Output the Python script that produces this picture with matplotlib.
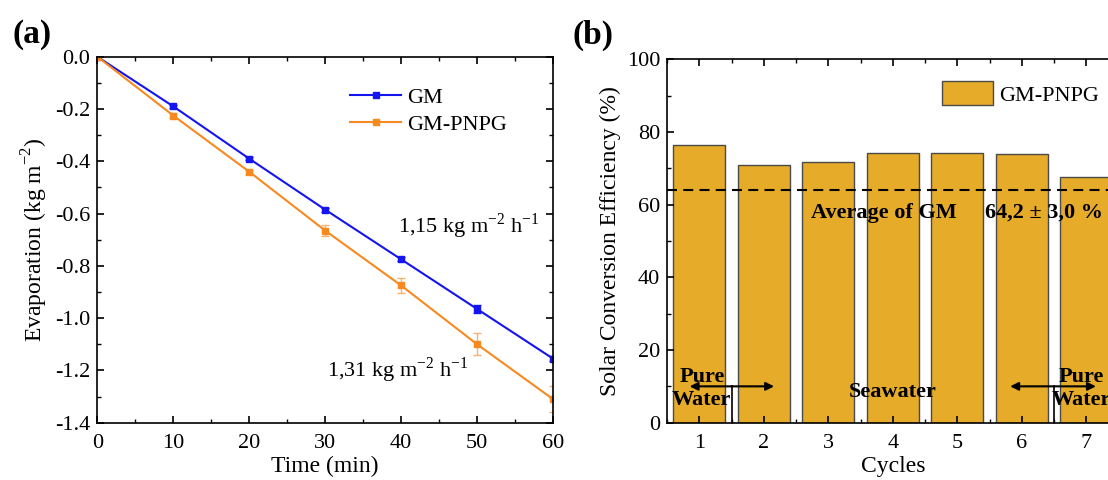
import matplotlib
matplotlib.use('Agg')
import matplotlib.pyplot as plt
from matplotlib.ticker import MultipleLocator, FormatStrFormatter

# panel (a) data
time_min = [0, 10, 20, 30, 40, 50, 60]
evap_gm = [0.0, -0.19, -0.39, -0.585, -0.775, -0.965, -1.155]
evap_gm_err = [0.0, 0.005, 0.005, 0.008, 0.008, 0.015, 0.01]
evap_pnpg = [0.0, -0.225, -0.44, -0.665, -0.875, -1.10, -1.31]
evap_pnpg_err = [0.0, 0.008, 0.008, 0.022, 0.03, 0.042, 0.05]

# panel (b) data
cycles = [1, 2, 3, 4, 5, 6, 7]
efficiency = [76.4, 70.9, 71.8, 74.2, 74.2, 73.9, 67.5]
gm_average = 64.0

plt.rcParams['font.family'] = ['Liberation Serif', 'DejaVu Serif']
plt.rcParams['mathtext.fontset'] = 'custom'
plt.rcParams['mathtext.rm'] = 'Liberation Serif'
plt.rcParams['axes.unicode_minus'] = False
plt.rcParams['font.size'] = 16

blue = '#1414F0'
orange = '#F8891E'
gold = '#E6AB28'

fig = plt.figure(figsize=(11.08, 4.8), dpi=100)

# ---- (a) evaporation
ax1 = fig.add_axes([0.0878, 0.1194, 0.4113, 0.7625])
ax1.errorbar(time_min, evap_gm, yerr=evap_gm_err, fmt='none', ecolor=blue,
             capsize=3, elinewidth=1)
ax1.errorbar(time_min, evap_pnpg, yerr=evap_pnpg_err, fmt='none', ecolor='#F9B070',
             capsize=3, elinewidth=1)
ax1.plot(time_min, evap_gm, color=blue, marker='s', ms=5, lw=1.5, label='GM')
ax1.plot(time_min, evap_pnpg, color=orange, marker='s', ms=5, lw=1.5, label='GM-PNPG')
ax1.set_xlim(0, 60)
ax1.set_ylim(-1.4, 0.0)
ax1.xaxis.set_major_locator(MultipleLocator(10))
ax1.xaxis.set_minor_locator(MultipleLocator(5))
ax1.yaxis.set_major_locator(MultipleLocator(0.2))
ax1.yaxis.set_minor_locator(MultipleLocator(0.1))
ax1.yaxis.set_major_formatter(FormatStrFormatter('%.1f'))
ax1.set_xlabel('Time (min)', fontsize=17, labelpad=2)
ax1.set_ylabel(r'Evaporation (kg m$^{\mathregular{-2}}$)', fontsize=17, labelpad=4)
ax1.legend(loc='upper left', bbox_to_anchor=(350 / 1108, 1 - 87 / 480),
           bbox_transform=fig.transFigure, frameon=False, borderpad=0,
           borderaxespad=0, handlelength=2.3, handletextpad=0.25,
           labelspacing=0.3, fontsize=16)
fig.text(398 / 1108, 1 - 226 / 480, r'1,15 kg m$^{\mathregular{-2}}$ h$^{\mathregular{-1}}$',
         va='center', ha='left', fontsize=16)
fig.text(327 / 1108, 1 - 370 / 480, r'1,31 kg m$^{\mathregular{-2}}$ h$^{\mathregular{-1}}$',
         va='center', ha='left', fontsize=16)

# ---- (b) solar conversion efficiency
ax2 = fig.add_axes([0.602, 0.1194, 0.4075, 0.7571])
ax2.bar(cycles, efficiency, width=0.8, color=gold, edgecolor='#4a4a4a', lw=1,
        label='GM-PNPG')
ax2.axhline(gm_average, color='black', lw=1.5, dashes=(4.8, 3.0))
ax2.set_xlim(0.5, 7.5)
ax2.set_ylim(0, 100)
ax2.xaxis.set_major_locator(MultipleLocator(1))
ax2.xaxis.set_minor_locator(MultipleLocator(0.5))
ax2.yaxis.set_major_locator(MultipleLocator(20))
ax2.yaxis.set_minor_locator(MultipleLocator(10))
ax2.set_xlabel('Cycles', fontsize=17, labelpad=2)
ax2.set_ylabel('Solar Conversion Efficiency (%)', fontsize=17, labelpad=4)
ax2.legend(loc='upper left', bbox_to_anchor=(942 / 1108, 1 - 81 / 480),
           bbox_transform=fig.transFigure, frameon=False, borderpad=0,
           borderaxespad=0, handlelength=2.3, handleheight=1.3,
           handletextpad=0.25, fontsize=16)

fig.text(811 / 1108, 1 - 213 / 480, 'Average of GM', fontweight='bold',
         ha='left', va='center')
fig.text(985 / 1108, 1 - 213 / 480, '64,2 \u00b1 3,0 %', fontweight='bold',
         ha='left', va='center')
ax2.text(4.0, 8.4, 'Seawater', fontweight='bold', ha='center', va='center')
ax2.text(1.04, 9.4, 'Pure\nWater', fontweight='bold', ha='center', va='center',
         linespacing=1.15)
ax2.text(6.93, 9.4, 'Pure\nWater', fontweight='bold', ha='center', va='center',
         linespacing=1.15)

# pure water / seawater separators
for sep, left, right in [(1.5, 0.85, 2.16), (6.5, 5.82, 7.15)]:
    ax2.plot([sep, sep], [0, 10], color='black', lw=1.2)
    for end in (left, right):
        ax2.annotate('', xy=(end, 10), xytext=(sep, 10),
                     arrowprops=dict(arrowstyle='-|>', color='black', lw=1.5,
                                     mutation_scale=12, shrinkA=0, shrinkB=0))

for ax in (ax1, ax2):
    ax.tick_params(which='both', direction='in', top=True, right=True, labelsize=16)
    ax.tick_params(which='major', length=5, width=1.2)
    ax.tick_params(which='minor', length=3, width=1.0)
    ax.tick_params(axis='x', which='major', pad=8)
    ax.tick_params(axis='y', which='major', pad=5)
    for s in ax.spines.values():
        s.set_linewidth(1.2)

fig.text(12 / 1108, 1 - 35 / 480, '(a)', fontsize=24, fontweight='bold', va='center')
fig.text(573 / 1108, 1 - 35 / 480, '(b)', fontsize=24, fontweight='bold', va='center')

fig.savefig('out.png', dpi=100)
